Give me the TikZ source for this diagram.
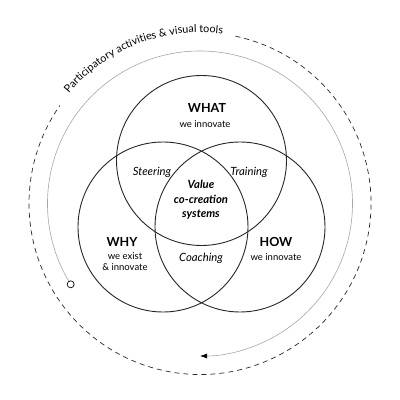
\documentclass[tikz,border=0pt]{standalone}
\usepackage{fontspec}
\setmainfont{Lato}
\usetikzlibrary{decorations.text,arrows.meta,calc}
\begin{document}
\begin{tikzpicture}[x=1pt,y=1pt,
  venn/.style={draw=black!85, line width=0.9pt},
  title/.style={font=\fontsize{12.5}{14}\selectfont\bfseries, inner sep=0pt},
  sub/.style={font=\fontsize{9.5}{11}\selectfont, inner sep=0pt, align=center},
  zone/.style={font=\fontsize{11.3}{13}\selectfont\itshape, inner sep=0pt},
  core/.style={font=\fontsize{11.3}{14.5}\selectfont\bfseries\itshape, inner sep=0pt, align=center},
  ring/.style={circle, draw=black, fill=white, line width=0.7pt, minimum size=7pt, inner sep=0pt},
  guide/.style={draw=black!35, line width=0.6pt},
  outer/.style={draw=black!85, line width=0.7pt, dash pattern=on 5pt off 4pt},
]
\useasboundingbox (0,0) rectangle (400,400);
\coordinate (C) at (200,196.5);
% Venn circles
\draw[venn] (201.5,239.5) circle[radius=85];
\draw[venn] (163,173) circle[radius=85];
\draw[venn] (240,173) circle[radius=85];
% gray guide arc with arrow
\coordinate (g0) at ($(C)+(212:152.5)$);
\coordinate (g1) at ($(C)+(-90:152.5)$);
\draw[guide, -{Latex[length=7pt,width=5pt,black]}] (g0) arc[start angle=212, end angle=-90, radius=152.5];
\node[ring] (start) at (g0) {};
% dashed outer arc
\coordinate (d0) at ($(C)+(78:171)$);
\draw[outer] (d0) arc[start angle=78, end angle=-215, radius=171];
% text along arc
\path[decorate, decoration={text along path, text align=left,
   text={|\fontsize{10.8}{12}\selectfont|Participatory activities {\&} visual tools}}]
   ($(C)+(140:171)$) arc[start angle=140, end angle=50, radius=171];
% labels
\node[title] (what) at (207,292) {WHAT};
\node[sub] (whatsub) at (205,276) {we innovate};
\node[zone] (steer) at (152,228) {Steering};
\node[zone] (train) at (249,228) {Training};
\node[core] (core) at (201,200) {Value\\co-creation\\systems};
\node[title] (why) at (122,158) {WHY};
\node[sub] (whysub) at (125,138) {we exist\\\& innovate};
\node[title] (how) at (276,158) {HOW};
\node[sub] (howsub) at (276,143) {we innovate};
\node[zone] (coach) at (201,142) {Coaching};
\end{tikzpicture}
\end{document}
